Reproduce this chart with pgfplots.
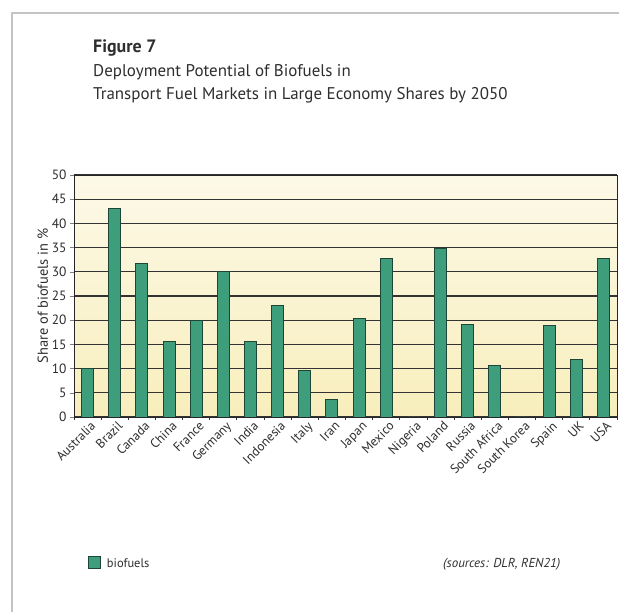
\documentclass[border=0pt]{standalone}
\usepackage{pgfplots}
\pgfplotsset{compat=1.18}
\usepackage{fontspec}
\setmainfont{PT Sans}
\definecolor{barfill}{HTML}{3E9E7B}
\definecolor{bardraw}{HTML}{1E4638}
\definecolor{bgtop}{HTML}{FDF9E8}
\definecolor{bgbot}{HTML}{F8EEBC}
\definecolor{framegray}{HTML}{C4C4C4}
\definecolor{textgray}{HTML}{2E2E2E}
\begin{document}
\begin{tikzpicture}
\path[use as bounding box] (0,0) rectangle (619bp,612bp);
\fill[white] (0,0) rectangle (619bp,612bp);
\draw[framegray, line width=1.2bp] (12bp,0) -- (12bp,599bp) -- (619bp,599bp);
% titles
\node[anchor=base west, inner sep=0, text=textgray] at (93bp,559bp) {\fontsize{18}{21}\selectfont\bfseries Figure 7};
\node[anchor=base west, inner sep=0, text=textgray] at (93bp,535bp) {\fontsize{17}{20}\selectfont Deployment Potential of Biofuels in};
\node[anchor=base west, inner sep=0, text=textgray] at (93bp,512bp) {\fontsize{17}{20}\selectfont Transport Fuel Markets in Large Economy Shares by 2050};
\node[anchor=base west, inner sep=0, text=textgray] at (443bp,44bp) {\fontsize{13}{15}\selectfont\itshape (sources: DLR, REN21)};
\begin{axis}[
  at={(74bp,195bp)}, anchor=south west,
  scale only axis, width=543bp, height=242bp,
  ybar, bar width=12bp,
  xmin=-0.5, xmax=19.5, ymin=0, ymax=50,
  ytick={0,5,...,50},
  xtick={0,...,19},
  xticklabels={Australia,Brazil,Canada,China,France,Germany,India,Indonesia,Italy,Iran,Japan,Mexico,Nigeria,Poland,Russia,South Africa,South Korea,Spain,UK,USA},
  minor xtick={-0.5,0.5,...,19.5},
  major x tick style={draw=none},
  minor x tick style={black!80, line width=0.9bp},
  minor tick length=3bp,
  major tick length=4bp,
  tick align=outside,
  xtick pos=bottom, ytick pos=left,
  ymajorgrids, major grid style={black!80, line width=1.3bp},
  axis line style={black!45, line width=0.9bp},
  y axis line style={black!85},
  axis background/.style={shade, top color=bgtop, bottom color=bgbot},
  x tick label style={rotate=45, anchor=north east, font=\fontsize{13}{14}\selectfont, text=textgray, xshift=3bp, inner sep=1bp},
  y tick label style={font=\fontsize{13.5}{14}\selectfont, text=textgray},
  /pgf/number format/assume math mode=true,
  ylabel={Share of biofuels in \%},
  ylabel style={font=\fontsize{14.5}{16}\selectfont, text=textgray, yshift=-3bp},
  legend style={at={(0.02,-0.605)}, anchor=west, draw=none, fill=none, font=\fontsize{12.5}{14}\selectfont, text=textgray},
  legend image code/.code={\draw[#1] (0bp,-5.5bp) rectangle (12bp,6.5bp);},
]
\addplot[fill=barfill, draw=bardraw, line width=0.9bp] coordinates {
(0,10) (1,43) (2,31.8) (3,15.6) (4,20) (5,30) (6,15.6) (7,23) (8,9.6) (9,3.6)
(10,20.4) (11,32.7) (12,0) (13,34.9) (14,19.1) (15,10.7) (16,0) (17,18.9) (18,11.8) (19,32.7)};
\addlegendentry{\hspace{4bp}biofuels}
\end{axis}
\end{tikzpicture}
\end{document}
